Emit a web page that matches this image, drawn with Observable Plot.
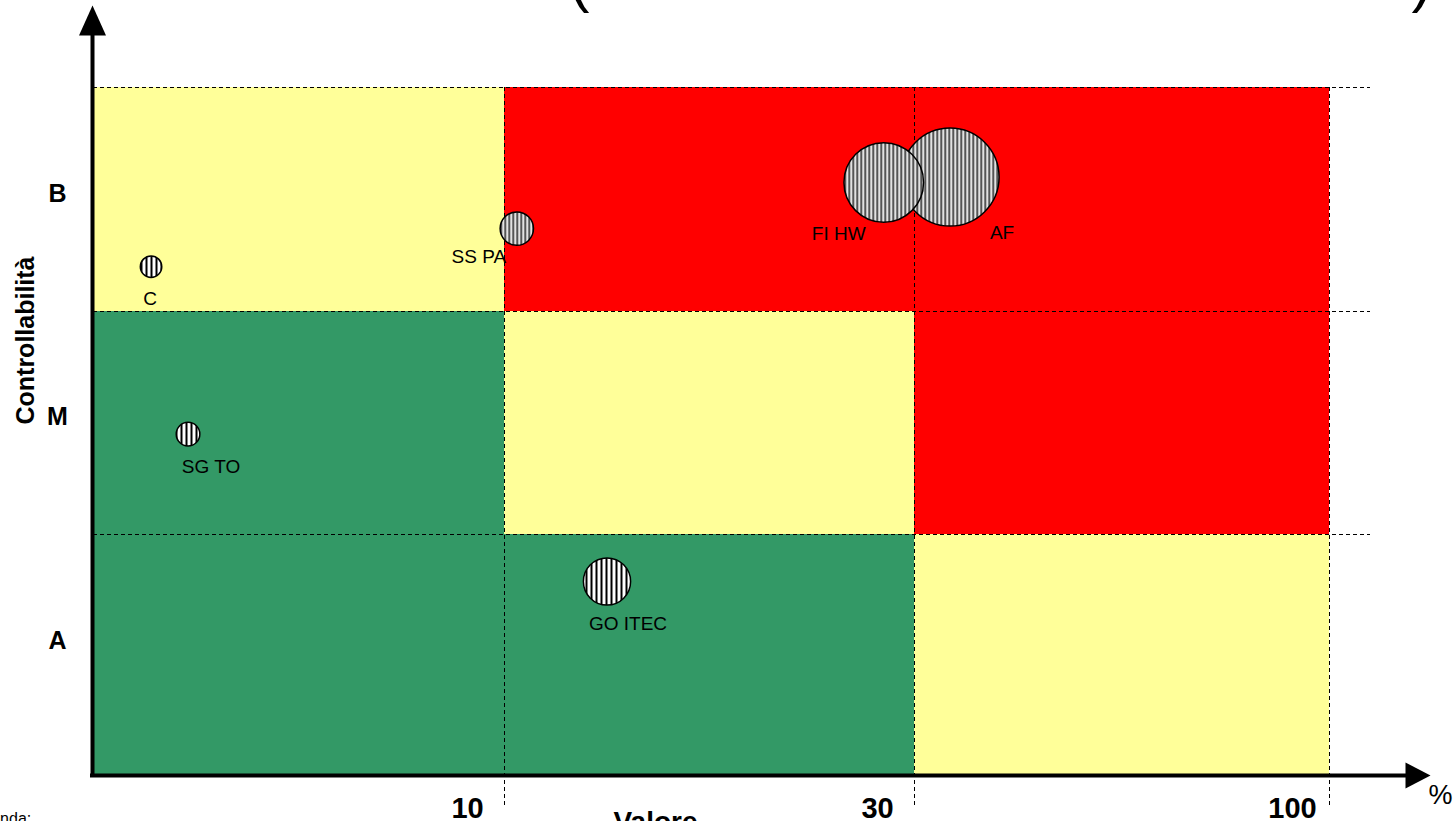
<!DOCTYPE html>
<html>
<head>
<meta charset="utf-8">
<script src="https://cdn.jsdelivr.net/npm/d3@7"></script>
<script src="https://cdn.jsdelivr.net/npm/@observablehq/plot@0.6"></script>
<style>
  html, body { margin: 0; padding: 0; background: #fff; overflow: hidden; }
  svg { display: block; overflow: visible; }
</style>
</head>
<body>
<div id="chart"></div>
<script>
// ---- Data ----
const valoreBounds = [0, 10, 30, 100];          // Valore (%) class limits
const valoreTicks = [10, 30, 100];
const controllabilitaLevels = ["A", "M", "B"];  // bottom to top
// risk level per cell, rows A, M, B ; columns 0-10, 10-30, 30-100
const riskRowA = ["basso", "basso", "medio"];
const riskRowM = ["basso", "medio", "alto"];
const riskRowB = ["medio", "alto", "alto"];
const riskLevels = ["basso", "medio", "alto"];

const bubbleNames = ["C", "SG TO", "SS PA", "GO ITEC", "FI HW", "AF"];
const bubbleValore = [1.4, 2.3, 10.6, 15.0, 28.5, 36.0];
const bubbleControllabilita = [2.2, 1.45, 2.37, 0.805, 2.576, 2.6];
const bubbleSize = [1.2, 1.45, 2.9, 5.8, 16.5, 25];
const bubbleGroup = ["g1", "g1", "g2", "g1", "g2", "g2"];

// ---- Build tables ----
const riskGrid = [riskRowA, riskRowM, riskRowB];
const cells = [];
riskGrid.forEach((row, i) => row.forEach((risk, j) => cells.push({
  x1: valoreBounds[j], x2: valoreBounds[j + 1], y1: i, y2: i + 1, risk
})));
const bubbles = bubbleNames.map((name, i) => ({
  name, valore: bubbleValore[i], ctrl: bubbleControllabilita[i], size: bubbleSize[i], group: bubbleGroup[i]
}));

// label placement (style)
const labelOffset = {
  "C": [-1, 32], "SG TO": [23, 33], "SS PA": [-38, 28],
  "GO ITEC": [21, 42], "FI HW": [-45, 51], "AF": [52, 56]
};

// custom arrowhead symbols
const arrowUp = { draw(ctx) { ctx.moveTo(0, -30); ctx.lineTo(13.5, 0); ctx.lineTo(-13.5, 0); ctx.closePath(); } };
const arrowRight = { draw(ctx) { ctx.moveTo(25, 0); ctx.lineTo(0, -13); ctx.lineTo(0, 13); ctx.closePath(); } };

const font = "'Liberation Sans', Arial, sans-serif";

const marks = [
  Plot.rect(cells, { x1: "x1", x2: "x2", y1: "y1", y2: "y2", fill: "risk" }),
  Plot.ruleY([1, 2, 3], { stroke: "black", strokeWidth: 1, strokeDasharray: "4,3", insetRight: -41 }),
  Plot.ruleX(valoreTicks, { stroke: "black", strokeWidth: 1, strokeDasharray: "4,3", insetBottom: -30 }),
  // axes
  Plot.ruleX([0], { stroke: "black", strokeWidth: 4, dx: -1, insetTop: -53, insetBottom: -2 }),
  Plot.ruleY([0], { stroke: "black", strokeWidth: 4, insetLeft: -3, insetRight: -78 }),
  Plot.dot([0], { x: d => d, frameAnchor: "top", dx: -1, dy: -52, symbol: arrowUp, fill: "black", stroke: "none", r: 10 }),
  Plot.dot([0], { y: d => d, frameAnchor: "right", dx: 76, symbol: arrowRight, fill: "black", stroke: "none", r: 10 }),
  // bubbles
  Plot.dot(bubbles, { filter: d => d.group === "g1", x: "valore", y: "ctrl", r: "size", fill: "url(#stripeBW)", stroke: "black", strokeWidth: 1.5 }),
  Plot.dot(bubbles, { filter: d => d.group === "g2", x: "valore", y: "ctrl", r: "size", fill: "url(#stripeGray)", stroke: "black", strokeWidth: 1.5 }),
  // bubble labels
  ...bubbles.map(b => Plot.text([b], {
    x: "valore", y: "ctrl", text: "name", dx: labelOffset[b.name][0], dy: labelOffset[b.name][1],
    fontSize: 19, fill: "black", fontFamily: font
  })),
  // y level labels
  Plot.text(controllabilitaLevels.filter(d => d !== "A"), {
    y: d => controllabilitaLevels.indexOf(d) + 0.5, text: d => d, frameAnchor: "left", textAnchor: "middle", dx: -36, dy: -6,
    fontSize: 25, fontWeight: "bold", fontFamily: font
  }),
  Plot.text(controllabilitaLevels.filter(d => d === "A"), {
    y: d => controllabilitaLevels.indexOf(d) + 0.5, text: d => d, frameAnchor: "left", textAnchor: "middle", dx: -36, dy: -14,
    fontSize: 25, fontWeight: "bold", fontFamily: font
  }),
  Plot.text(["Controllabilità"], { text: d => d, frameAnchor: "left", textAnchor: "middle", rotate: -90, dx: -68, dy: -91, fontSize: 25, fontWeight: "bold", fontFamily: font }),
  // x tick labels
  Plot.text(valoreTicks, { x: d => d, text: d => String(d), frameAnchor: "bottom", textAnchor: "middle", dx: -37, dy: 42, fontSize: 29, fontWeight: "bold", fontFamily: font }),
  Plot.text(["%"], { text: d => d, frameAnchor: "bottom-right", textAnchor: "middle", dx: 111, dy: 28, fontSize: 27, fontFamily: font }),
  Plot.text(["Valore"], { text: d => d, frameAnchor: "bottom-left", textAnchor: "middle", dx: 562, dy: 55, fontSize: 28, fontWeight: "bold", fontFamily: font }),
  Plot.text(["Legenda:"], { text: d => d, frameAnchor: "bottom-left", textAnchor: "start", dx: -129, dy: 48, fontSize: 16, fontFamily: font }),
  // cut-off title parentheses
  Plot.text(["("], { text: d => d, frameAnchor: "top-left", textAnchor: "start", dx: 476, dy: -129, fontSize: 60, fontFamily: font }),
  Plot.text([")"], { text: d => d, frameAnchor: "top-left", textAnchor: "start", dx: 1318, dy: -129, fontSize: 60, fontFamily: font })
];

const chart = Plot.plot({
  width: 1455, height: 821,
  marginLeft: 93, marginRight: 126, marginTop: 87, marginBottom: 46,
  x: { type: "linear", domain: valoreBounds, range: [93, 504, 914, 1329], axis: null },
  y: { type: "linear", domain: [0, 1, 2, 3], range: [775, 534, 311, 87], axis: null },
  r: { type: "sqrt", domain: [0, 25], range: [0, 49] },
  color: { domain: riskLevels, range: ["#339966", "#FFFF99", "#FF0000"] },
  style: { fontFamily: font, background: "white", overflow: "visible" },
  marks
});

// stripe patterns for bubbles
const ns = "http://www.w3.org/2000/svg";
const defs = document.createElementNS(ns, "defs");
defs.innerHTML = `
  <pattern id="stripeBW" patternUnits="userSpaceOnUse" width="5" height="10">
    <rect width="5" height="10" fill="white"/>
    <rect width="2" height="10" fill="black"/>
  </pattern>
  <pattern id="stripeGray" patternUnits="userSpaceOnUse" width="4" height="10">
    <rect width="4" height="10" fill="#d0d0d0"/>
    <rect x="0" width="1" height="10" fill="#2a2a2a"/>
    <rect x="1" width="1" height="10" fill="#808080"/>
    <rect x="2" width="1" height="10" fill="#f4f4f4"/>
  </pattern>`;
chart.insertBefore(defs, chart.firstChild);
document.getElementById("chart").appendChild(chart);
</script>
</body>
</html>
